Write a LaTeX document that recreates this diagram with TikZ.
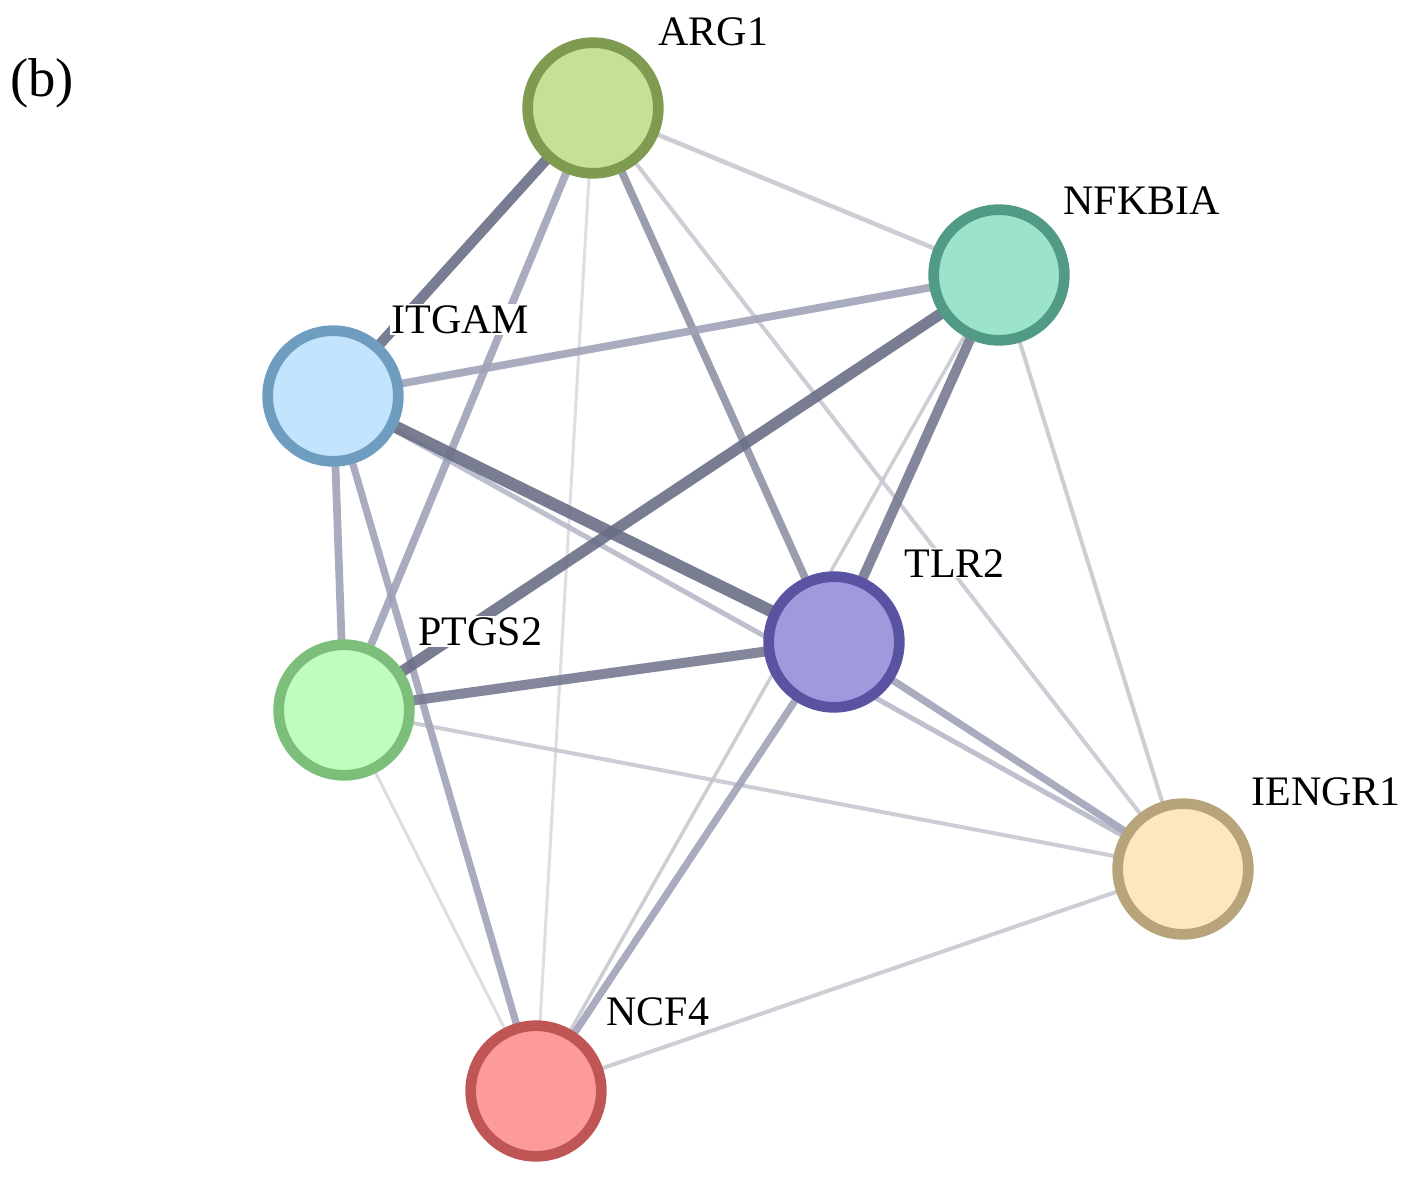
\documentclass[tikz,border=0pt]{standalone}
\usepackage{fontspec}
\setmainfont{Liberation Serif}
\usetikzlibrary{backgrounds}
\definecolor{edark}{HTML}{6A6F87}
\definecolor{edarkb}{HTML}{777B92}
\definecolor{emid}{HTML}{A0A3B7}
\definecolor{elight}{HTML}{C8C8D1}
\definecolor{evlight}{HTML}{DADAE0}
\definecolor{argF}{HTML}{C8DF96}\definecolor{argD}{HTML}{7F9B4F}
\definecolor{nfkF}{HTML}{9CE3CC}\definecolor{nfkD}{HTML}{509A86}
\definecolor{itgF}{HTML}{C2E4FC}\definecolor{itgD}{HTML}{6F9DBF}
\definecolor{tlrF}{HTML}{9F99DD}\definecolor{tlrD}{HTML}{5A53A2}
\definecolor{ptgF}{HTML}{BFFCBD}\definecolor{ptgD}{HTML}{7BBF7B}
\definecolor{ienF}{HTML}{FEE6C0}\definecolor{ienD}{HTML}{B8A47A}
\definecolor{ncfF}{HTML}{FD9A9A}\definecolor{ncfD}{HTML}{C05555}
\tikzset{
  prot/.style={circle, minimum size=98pt, inner sep=0pt, line width=8pt},
  lbl/.style={anchor=base west, font=\fontsize{31.5pt}{36pt}\selectfont, fill=white, inner sep=1pt},
  wdark/.style={draw=edark, line width=7.8pt, opacity=0.9},
  wdarkb/.style={draw=edarkb, line width=7.5pt, opacity=0.9},
  wmid/.style={draw=emid, line width=5.8pt, opacity=0.9},
  wlight/.style={draw=elight, line width=3pt, opacity=0.9},
  wvlight/.style={draw=evlight, line width=2.2pt, opacity=0.9}
}
\begin{document}
\begin{tikzpicture}[x=0.75pt, y=-0.75pt]
\useasboundingbox (0,0) rectangle (1407,1179);
% nodes
\node[prot, fill=argF, draw=argD] (ARG1) at (593,108) {};
\node[prot, fill=nfkF, draw=nfkD] (NFKBIA) at (999,275) {};
\node[prot, fill=itgF, draw=itgD] (ITGAM) at (333,396) {};
\node[prot, fill=tlrF, draw=tlrD] (TLR2) at (834,642) {};
\node[prot, fill=ptgF, draw=ptgD] (PTGS2) at (344,710) {};
\node[prot, fill=ienF, draw=ienD] (IENGR1) at (1183,869) {};
\node[prot, fill=ncfF, draw=ncfD] (NCF4) at (536,1091) {};
% edges
\begin{scope}[on background layer]
\fill[white] (0,0) rectangle (1407,1179);
\draw[wvlight] (ARG1.center) -- (NCF4.center);
\draw[wvlight] (PTGS2.center) -- (NCF4.center);
\draw[wlight] (ARG1.center) -- (IENGR1.center);
\draw[wlight, line width=3.4pt] (ARG1.center) -- (NFKBIA.center);
\draw[wlight] (NFKBIA.center) -- (IENGR1.center);
\draw[wlight, line width=2.6pt] (NFKBIA.center) -- (NCF4.center);
\draw[wlight] (PTGS2.center) -- (IENGR1.center);
\draw[wlight] (NCF4.center) -- (IENGR1.center);
\draw[wlight, draw=emid!75!white, line width=3.8pt] (ITGAM.center) -- (IENGR1.center);
\draw[wmid] (ARG1.center) -- (PTGS2.center);
\draw[wmid, draw=emid!90!black] (ARG1.center) -- (TLR2.center);
\draw[wmid] (NFKBIA.center) -- (ITGAM.center);
\draw[wmid] (ITGAM.center) -- (PTGS2.center);
\draw[wmid, line width=5.4pt] (ITGAM.center) -- (NCF4.center);
\draw[wmid, line width=5.4pt] (TLR2.center) -- (IENGR1.center);
\draw[wmid, line width=5.4pt] (TLR2.center) -- (NCF4.center);
\draw[wdark] (ARG1.center) -- (ITGAM.center);
\draw[wdark, line width=8.4pt] (NFKBIA.center) -- (PTGS2.center);
\draw[wdarkb] (NFKBIA.center) -- (TLR2.center);
\draw[wdark, line width=9.2pt] (ITGAM.center) -- (TLR2.center);
\draw[wdarkb] (PTGS2.center) -- (TLR2.center);
\end{scope}
% labels
\node[lbl] (lARG1) at (657,45) {ARG1};
\node[lbl] (lNFKBIA) at (1062,214) {NFKBIA};
\node[lbl] (lITGAM) at (390,333) {ITGAM};
\node[lbl] (lTLR2) at (903,577) {TLR2};
\node[lbl] (lPTGS2) at (417,645) {PTGS2};
\node[lbl] (lIENGR1) at (1250,805) {IENGR1};
\node[lbl] (lNCF4) at (605,1025) {NCF4};
\node[anchor=base west, font=\fontsize{41pt}{48pt}\selectfont, inner sep=0pt] (panel) at (10,96) {(b)};
\end{tikzpicture}
\end{document}
